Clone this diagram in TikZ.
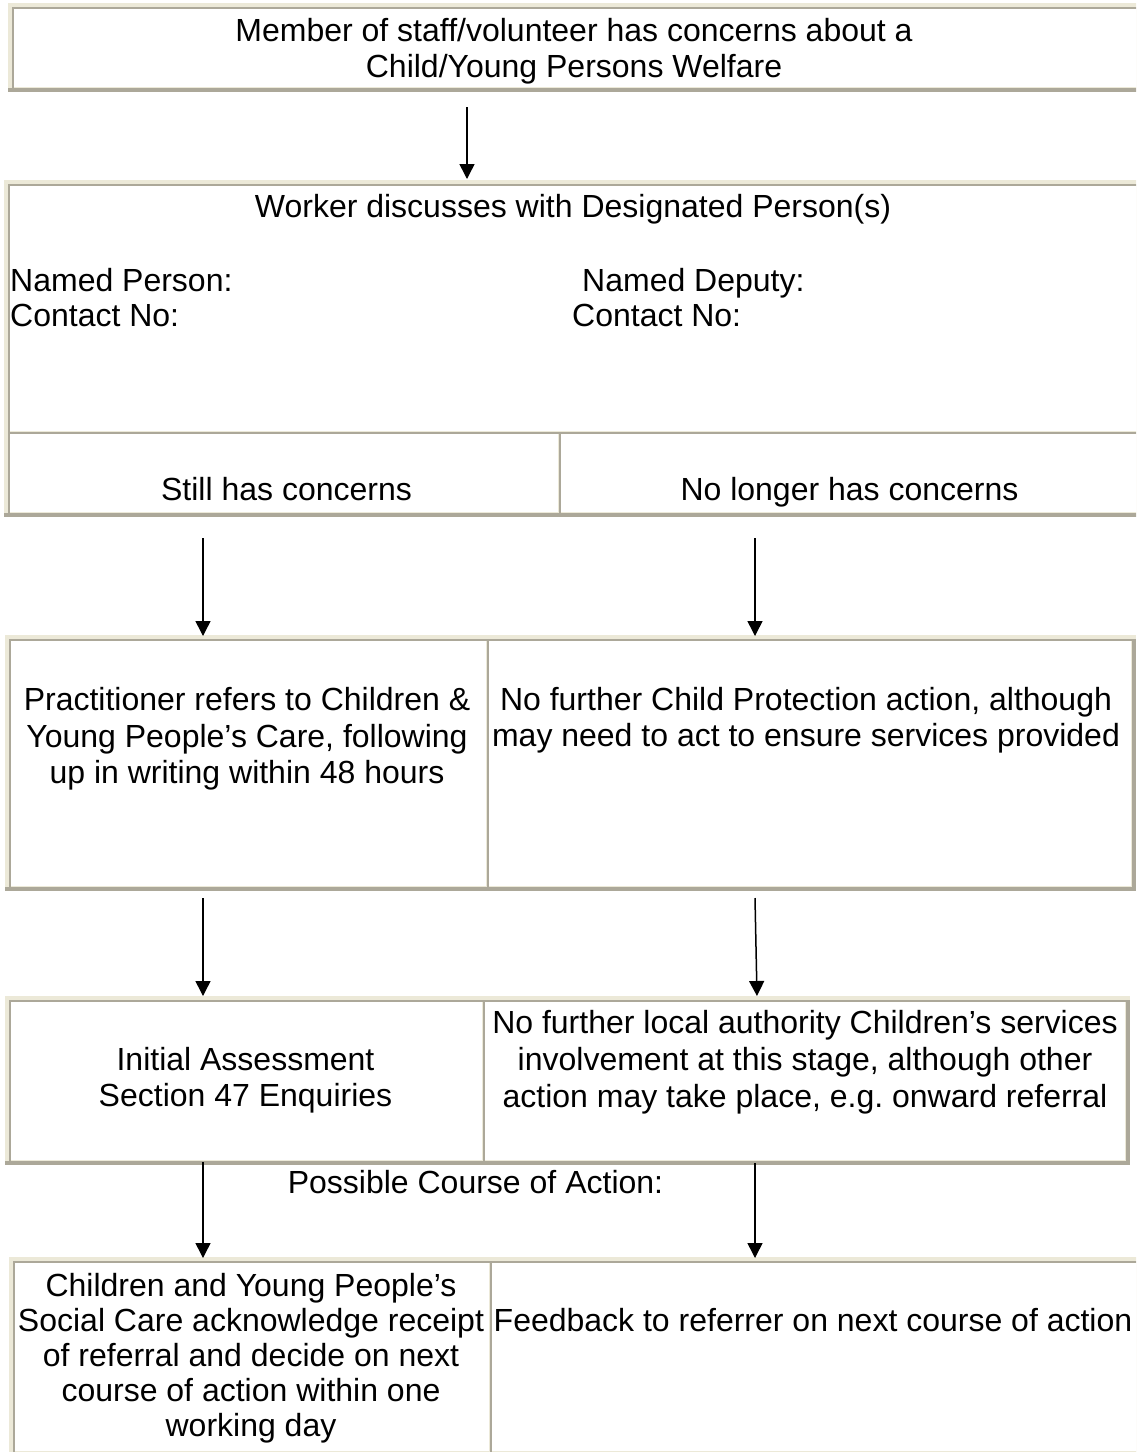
\documentclass[tikz,border=0pt]{standalone}
\usepackage{fontspec}
\setmainfont{Liberation Sans}
\usetikzlibrary{arrows.meta}
\definecolor{lite}{HTML}{ECE9D8}
\definecolor{dark}{HTML}{ACA899}
\frenchspacing
% outset table frame: x0 y0 x1 y1
\newcommand\tblframe[4]{%
  \fill[lite] (#1,#2) rectangle (#3,#2+4);
  \fill[lite] (#1,#2) rectangle (#1+4,#4-4);
  \fill[dark] (#1,#4-4) rectangle (#3,#4);
  \fill[dark] (#3-4,#2+4) rectangle (#3,#4);
}
% inset cell frame: x0 y0 x1 y1
\newcommand\cellframe[4]{%
  \fill[dark] (#1,#2) rectangle (#3,#2+1.5);
  \fill[dark] (#1,#2) rectangle (#1+1.5,#4);
  \fill[lite] (#1+1.5,#4-1) rectangle (#3,#4);
  \fill[lite] (#3-1,#2+1.5) rectangle (#3,#4);
}
\begin{document}
\begin{tikzpicture}[x=1pt,y=-1pt,
  txt/.style={font=\fontsize{32}{36.8}\selectfont, inner sep=0pt, anchor=base},
  txtl/.style={txt, anchor=base west},
  arr/.style={line width=1.5pt, -{Triangle[width=15pt,length=15pt]}}]
\useasboundingbox[fill=white] (0,0) rectangle (1136,1452);
\clip (0,0) rectangle (1136,1452);

% Table 1
\tblframe{8}{3}{1141}{92}
\cellframe{12}{7}{1137}{88}
% Table 2
\tblframe{4}{180}{1141}{517}
\cellframe{8}{184}{1137}{432}
\cellframe{8}{432}{559}{513}
\cellframe{559}{432}{1137}{513}
% Table 3
\tblframe{5}{635}{1136}{891}
\cellframe{9}{639}{487}{887}
\cellframe{487}{639}{1132}{887}
% Table 4
\tblframe{5}{996}{1130}{1165}
\cellframe{9}{1000}{483}{1161}
\cellframe{483}{1000}{1126}{1161}
% Table 5
\tblframe{9}{1257}{1141}{1457}
\cellframe{13}{1261}{490}{1452}
\cellframe{490}{1261}{1137}{1452}

% Texts
\node[txt] (t1a) at (574,41) {Member of staff/volunteer has concerns about a};
\node[txt] (t1b) at (574,77) {Child/Young Persons Welfare};
\node[txt] (t2) at (573,217) {Worker discusses with Designated Person(s)};
\node[txtl] (np) at (10,291) {Named Person:};
\node[txtl] (nc) at (10,326) {Contact No:};
\node[txtl] (dp) at (582,291) {Named Deputy:};
\node[txtl] (dc) at (572,326) {Contact No:};
\node[txt] (still) at (286.5,500) {Still has concerns};
\node[txt] (nolong) at (849.5,500) {No longer has concerns};

\node[txt] (p1) at (247,710) {Practitioner refers to Children \&};
\node[txt] (p2) at (247,747) {Young People’s Care, following};
\node[txt] (p3) at (247,783) {up in writing within 48 hours};
\node[txt] (n1) at (806,710) {No further Child Protection action, although};
\node[txt] (n2) at (806,746) {may need to act to ensure services provided};

\node[txt] (i1) at (245.5,1070) {Initial Assessment};
\node[txt] (i2) at (245.5,1106) {Section 47 Enquiries};
\node[txt] (l1) at (805,1033) {No further local authority Children’s services};
\node[txt] (l2) at (805,1070) {involvement at this stage, although other};
\node[txt] (l3) at (805,1107) {action may take place, e.g. onward referral};

\node[txt] (pc) at (475.5,1193) {Possible Course of Action:};

\node[txt] (c1) at (251,1296) {Children and Young People’s};
\node[txt] (c2) at (251,1331) {Social Care acknowledge receipt};
\node[txt] (c3) at (251,1366) {of referral and decide on next};
\node[txt] (c4) at (251,1401) {course of action within one};
\node[txt] (c5) at (251,1436) {working day};
\node[txt] (fb) at (813,1331) {Feedback to referrer on next course of action};

% Arrow end points
\coordinate (a1s) at (467,107);  \coordinate (a1e) at (467,179);
\coordinate (a2ls) at (203,538); \coordinate (a2le) at (203,636);
\coordinate (a2rs) at (755,538); \coordinate (a2re) at (755,636);
\coordinate (a3ls) at (203,898); \coordinate (a3le) at (203,996);
\coordinate (a3rs) at (755,898); \coordinate (a3re) at (757,996);
\coordinate (a4ls) at (203,1162); \coordinate (a4le) at (203,1258);
\coordinate (a4rs) at (755,1163); \coordinate (a4re) at (755,1258);

\draw[arr] (a1s) -- (a1e);
\draw[arr] (a2ls) -- (a2le);
\draw[arr] (a2rs) -- (a2re);
\draw[arr] (a3ls) -- (a3le);
\draw[arr] (a3rs) -- (a3re);
\draw[arr] (a4ls) -- (a4le);
\draw[arr] (a4rs) -- (a4re);
\end{tikzpicture}
\end{document}
